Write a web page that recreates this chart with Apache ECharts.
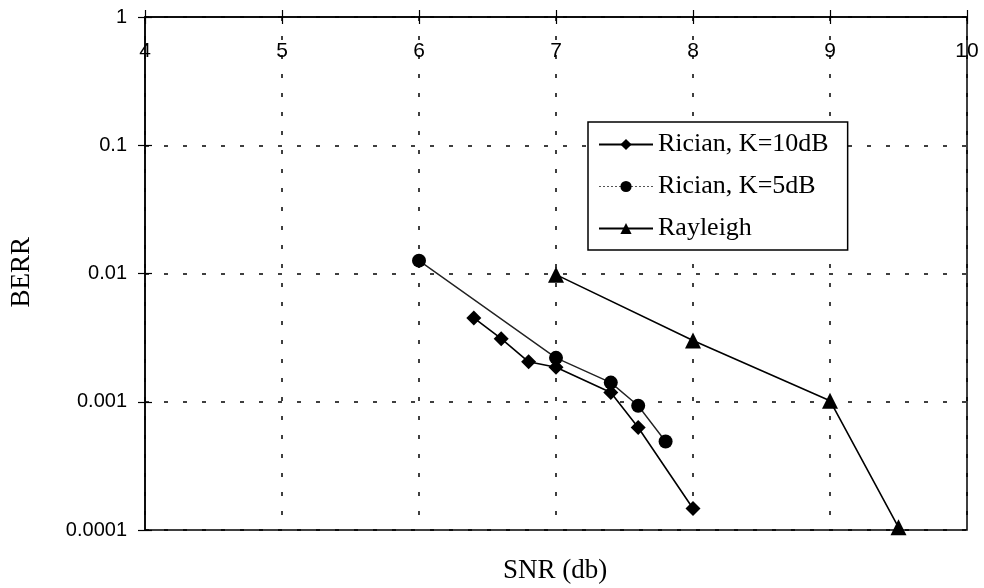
<!DOCTYPE html>
<html>
<head>
<meta charset="utf-8">
<script src="https://cdn.jsdelivr.net/npm/echarts@6/dist/echarts.min.js"></script>
<style>html,body{margin:0;padding:0;background:#fff}#c{width:984px;height:588px}</style>
</head>
<body>
<div id="c"></div>
<script>
var xTicks = [4, 5, 6, 7, 8, 9, 10];
var yTickLabels = {'1': '1', '0.1': '0.1', '0.01': '0.01', '0.001': '0.001', '0.0001': '0.0001'};
var seriesNames = ['Rician, K=10dB', 'Rician, K=5dB', 'Rayleigh'];
var k10x = [6.4, 6.6, 6.8, 7.0, 7.4, 7.6, 8.0];
var k10y = [0.0045, 0.0031, 0.00205, 0.00186, 0.00118, 0.00063, 0.000147];
var k5x = [6.0, 7.0, 7.4, 7.6, 7.8];
var k5y = [0.0126, 0.0022, 0.00141, 0.00093, 0.00049];
var rayX = [7, 8, 9, 9.5];
var rayY = [0.0098, 0.003, 0.00102, 0.000105];

function pairs(xs, ys) { return xs.map(function (x, i) { return [x, ys[i]]; }); }

var chart = echarts.init(document.getElementById('c'), null, {renderer: 'canvas'});
var dash = {type: [4, 15], color: '#000', width: 1.5};
var fmtY = function (v) {
  var e = Math.round(Math.log10(v));
  return yTickLabels[String(Math.pow(10, e))] || String(v);
};
chart.setOption({
  animation: false,
  backgroundColor: '#fff',
  grid: {left: 145, right: 17, top: 17, bottom: 58, show: true, borderColor: '#000', borderWidth: 1.5, backgroundColor: 'transparent'},
  xAxis: [{
    type: 'value', position: 'top', min: xTicks[0], max: xTicks[xTicks.length - 1], interval: 1,
    axisLine: {show: true, onZero: false, lineStyle: {color: '#000', width: 1.5}},
    axisTick: {show: true, inside: true, length: 7, lineStyle: {color: '#000', width: 1.2}},
    axisLabel: {inside: true, margin: 24, color: '#000', fontFamily: 'Liberation Sans', fontSize: 21, showMinLabel: true, showMaxLabel: true},
    splitLine: {show: true, lineStyle: dash}
  }, {
    type: 'value', position: 'top', min: xTicks[0], max: xTicks[xTicks.length - 1], interval: 1,
    axisLine: {show: false}, axisTick: {show: true, inside: false, length: 7, lineStyle: {color: '#000', width: 1.2}},
    axisLabel: {show: false}, splitLine: {show: false}
  }],
  yAxis: [{
    type: 'log', logBase: 10, min: 0.0001, max: 1, position: 'left',
    axisLine: {show: true, onZero: false, lineStyle: {color: '#000', width: 1.5}},
    axisTick: {show: true, inside: false, length: 7, lineStyle: {color: '#000', width: 1.2}},
    axisLabel: {margin: 18, color: '#000', fontFamily: 'Liberation Sans', fontSize: 20, formatter: fmtY},
    splitLine: {show: true, lineStyle: dash},
    minorTick: {show: false}
  }, {
    type: 'log', logBase: 10, min: 0.0001, max: 1, position: 'left',
    axisLine: {show: false}, axisTick: {show: true, inside: true, length: 7, lineStyle: {color: '#000', width: 1.2}},
    axisLabel: {show: false}, splitLine: {show: false}
  }],
  legend: {
    orient: 'vertical', left: 588, top: 122, padding: [9, 19, 8, 10],
    backgroundColor: '#fff', borderColor: '#000', borderWidth: 1.5,
    itemWidth: 54, itemHeight: 14, itemGap: 15,
    textStyle: {color: '#000', fontFamily: 'Liberation Serif', fontSize: 26, lineHeight: 27},
    data: [
      {name: seriesNames[0]},
      {name: seriesNames[1], lineStyle: {type: [2, 2], color: '#555', width: 1.2}},
      {name: seriesNames[2]}
    ]
  },
  graphic: [
    {type: 'text', left: 8, top: 237, rotation: Math.PI / 2, style: {text: 'BERR', fill: '#000', font: '27px "Liberation Serif"'}},
    {type: 'text', left: 503, top: 557, style: {text: 'SNR (db)', fill: '#000', font: '27px "Liberation Serif"'}}
  ],
  series: [{
    name: seriesNames[0], type: 'line', data: pairs(k10x, k10y),
    symbol: 'diamond', symbolSize: 15, showAllSymbol: true,
    lineStyle: {color: '#000', width: 1.6}, itemStyle: {color: '#000'}
  }, {
    name: seriesNames[1], type: 'line', data: pairs(k5x, k5y),
    symbol: 'circle', symbolSize: 14, showAllSymbol: true,
    lineStyle: {color: '#222', width: 1.4}, itemStyle: {color: '#000'}
  }, {
    name: seriesNames[2], type: 'line', data: pairs(rayX, rayY),
    symbol: 'triangle', symbolSize: 16, showAllSymbol: true,
    lineStyle: {color: '#000', width: 1.6}, itemStyle: {color: '#000'}
  }]
});
</script>
</body>
</html>
